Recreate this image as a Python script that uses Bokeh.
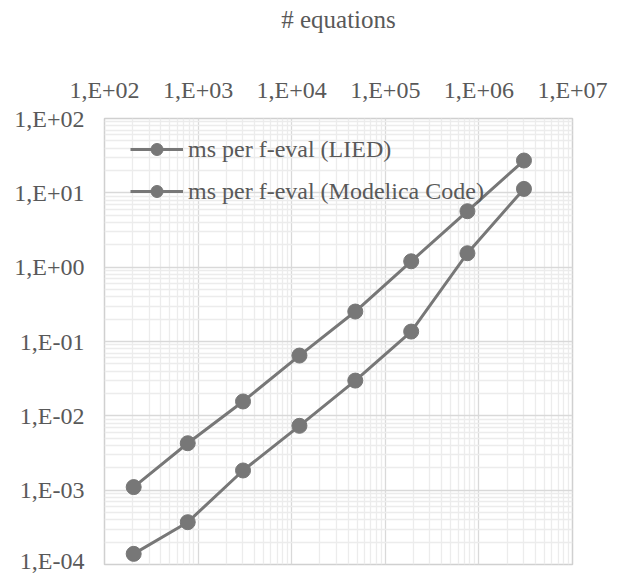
from bokeh.plotting import figure
from bokeh.models import FixedTicker, CustomJSTickFormatter, Legend, LegendItem
from bokeh.embed import file_html
from bokeh.resources import INLINE

# ---- data ----
n_equations = [205, 775, 3020, 12100, 47800, 189000, 754000, 3030000]
ms_lied = [1.10e-3, 4.28e-3, 1.56e-2, 6.47e-2, 0.253, 1.20, 5.66, 27.2]
ms_modelica = [1.39e-4, 3.71e-4, 1.84e-3, 7.34e-3, 2.98e-2, 0.136, 1.54, 11.3]

series_names = ["ms per f-eval (LIED)", "ms per f-eval (Modelica Code)"]
x_title = "# equations"

x_ticks = [1e2, 1e3, 1e4, 1e5, 1e6, 1e7]
x_tick_labels = ["1,E+02", "1,E+03", "1,E+04", "1,E+05", "1,E+06", "1,E+07"]
y_ticks = [1e-4, 1e-3, 1e-2, 1e-1, 1e0, 1e1, 1e2]
y_tick_labels = ["1,E-04", "1,E-03", "1,E-02", "1,E-01", "1,E+00", "1,E+01", "1,E+02"]

# ---- style ----
FONT = "'Liberation Serif', 'Times New Roman', serif"
TEXT = "#595959"
SERIES = "#777777"

def minor_list(lo_exp, hi_exp):
    out = []
    for e in range(lo_exp, hi_exp):
        for m in range(2, 10):
            out.append(m * 10.0 ** e)
    return out

p = figure(width=610, height=573, x_axis_type="log", y_axis_type="log",
           x_range=(1e2, 1e7), y_range=(1e-4, 1e2),
           x_axis_location="above",
           output_backend="svg", toolbar_location=None,
           min_border_left=104, min_border_right=38,
           min_border_top=118, min_border_bottom=9)
p.title.visible = False
p.background_fill_color = "white"
p.border_fill_color = "white"
p.outline_line_color = "#d0d0d0"
p.outline_line_width = 1.5

fmt_js = """
const i = tvals.findIndex(t => Math.abs(Math.log10(t) - Math.log10(tick)) < 1e-6);
return i >= 0 ? tlabels[i] : "";
"""
p.xaxis.ticker = FixedTicker(ticks=x_ticks, minor_ticks=minor_list(2, 7))
p.yaxis.ticker = FixedTicker(ticks=y_ticks, minor_ticks=minor_list(-4, 2))
p.xaxis.formatter = CustomJSTickFormatter(args=dict(tvals=x_ticks, tlabels=x_tick_labels), code=fmt_js)
p.yaxis.formatter = CustomJSTickFormatter(args=dict(tvals=y_ticks, tlabels=y_tick_labels), code=fmt_js)

for ax in (p.xaxis[0], p.yaxis[0]):
    ax.axis_line_color = None
    ax.major_tick_line_color = None
    ax.minor_tick_line_color = None
    ax.major_tick_out = 0
    ax.major_tick_in = 0
    ax.minor_tick_out = 0
    ax.minor_tick_in = 0
    ax.major_label_text_font = FONT
    ax.major_label_text_font_size = "24px"
    ax.major_label_text_color = TEXT
p.xaxis.major_label_standoff = 16
p.yaxis.major_label_standoff = 20

p.xaxis.axis_label = x_title
p.xaxis.axis_label_text_font = FONT
p.xaxis.axis_label_text_font_size = "25px"
p.xaxis.axis_label_text_font_style = "normal"
p.xaxis.axis_label_text_color = TEXT
p.xaxis.axis_label_standoff = 41

p.xgrid.grid_line_color = "#d9d9d9"
p.ygrid.grid_line_color = "#d9d9d9"
p.xgrid.grid_line_width = 1.3
p.ygrid.grid_line_width = 1.3
p.xgrid.minor_grid_line_color = "#ececec"
p.ygrid.minor_grid_line_color = "#ececec"
p.xgrid.minor_grid_line_width = 1.3
p.ygrid.minor_grid_line_width = 1.3

items = []
for ys, name in zip([ms_lied, ms_modelica], series_names):
    r1 = p.line(n_equations, ys, line_color=SERIES, line_width=3)
    r2 = p.scatter(n_equations, ys, size=15, fill_color=SERIES, line_color=SERIES)
    items.append(LegendItem(label=name, renderers=[r1, r2]))

legend = Legend(items=items, location=(26, 358), orientation="vertical",
                background_fill_alpha=0, border_line_color=None,
                margin=0, padding=0, spacing=12,
                glyph_width=53, glyph_height=30, label_height=30,
                label_standoff=5,
                label_text_font=FONT, label_text_font_size="24px",
                label_text_color=TEXT)
p.add_layout(legend, "center")

open("out.html", "w").write(file_html(p, INLINE))
